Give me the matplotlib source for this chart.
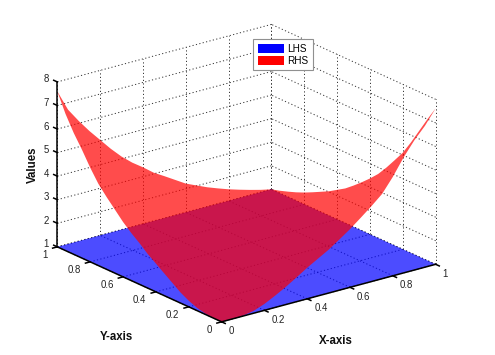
# plot.py
# LHS / RHS surfaces over the unit square, 3D view in the old MATLAB look

import matplotlib
matplotlib.use('Agg')
import matplotlib.pyplot as plt
from matplotlib.patches import Patch
from mpl_toolkits.mplot3d import proj3d
from mpl_toolkits.mplot3d.art3d import Poly3DCollection

plt.rcParams['font.family'] = ['Liberation Sans', 'DejaVu Sans']

# RHS along its four edges, indexed by distance from the x=y diagonal
edge_pos = [0, 0.05, 0.1, 0.15, 0.2, 0.25, 0.3, 0.35, 0.4, 0.45, 0.5,
            0.55, 0.6, 0.65, 0.7, 0.75, 0.8, 0.85, 0.9, 0.95, 1]
rhs_x0 = [1.00, 1.00, 1.04, 1.12, 1.26, 1.45, 1.70, 1.95, 2.20, 2.45, 2.75,
          3.02, 3.33, 3.70, 4.07, 4.47, 5.00, 5.60, 6.15, 6.80, 7.60]
rhs_y1 = [1.00, 1.10, 1.22, 1.35, 1.49, 1.65, 1.82, 2.02, 2.22, 2.50, 2.78,
          3.05, 3.40, 3.72, 4.10, 4.55, 5.05, 5.55, 6.10, 6.70, 7.60]
rhs_x1 = [1.00, 1.10, 1.22, 1.35, 1.50, 1.67, 1.85, 2.03, 2.25, 2.47, 2.75,
          3.05, 3.37, 3.72, 4.15, 4.62, 5.10, 5.70, 6.35, 7.00, 7.62]
rhs_y0 = [1.00, 1.00, 1.02, 1.10, 1.27, 1.50, 1.75, 2.03, 2.32, 2.58, 2.84,
          3.15, 3.47, 3.83, 4.20, 4.60, 5.20, 5.90, 6.50, 7.00, 7.62]
lhs_value = 1

x_ticks = [0, 0.2, 0.4, 0.6, 0.8, 1]
y_ticks = [0, 0.2, 0.4, 0.6, 0.8, 1]
z_ticks = [1, 2, 3, 4, 5, 6, 7, 8]
x_tick_labels = ['0', '0.2', '0.4', '0.6', '0.8', '1']
y_tick_labels = ['0', '0.2', '0.4', '0.6', '0.8', '1']
z_tick_labels = ['1', '2', '3', '4', '5', '6', '7', '8']

W, H = 495, 355
fig = plt.figure(figsize=(W / 100, H / 100), dpi=100)
ax = fig.add_axes([-15.4 / W, -80 / H, 510 / W, 510 / H], projection='3d',
                  proj_type='ortho', computed_zorder=False)
ax.set_box_aspect((270, 270, 176.2), zoom=0.8)
ax.view_init(elev=20.5, azim=-127.5)
ax.set_xlim(0, 1, view_margin=0)
ax.set_ylim(0, 1, view_margin=0)
ax.set_zlim(1, 8, view_margin=0)
ax.set_axis_off()

x0, x1 = x_ticks[0], x_ticks[-1]
y0, y1 = y_ticks[0], y_ticks[-1]
z0, z1 = z_ticks[0], z_ticks[-1]

grid = dict(color='#333333', lw=0.7, ls=(0, (1.2, 2.4)), zorder=1)
axis_line = dict(color='black', lw=1.1, zorder=4)
tick_len = 0.022
M = ax.get_proj()


def label3d(x, y, z, s, **kw):
    # plain 2D text placed at the projected point
    px, py, _ = proj3d.proj_transform(x, y, z, M)
    ax.text2D(px, py, s, transform=ax.transData, **kw)


# floor and the two back walls
for t in x_ticks:
    ax.plot([t, t], [y0, y1], [z0, z0], **grid)
    ax.plot([t, t], [y1, y1], [z0, z1], **grid)
for t in y_ticks:
    ax.plot([x0, x1], [t, t], [z0, z0], **grid)
    ax.plot([x1, x1], [t, t], [z0, z1], **grid)
for t in z_ticks:
    ax.plot([x0, x1], [y1, y1], [t, t], **grid)
    ax.plot([x1, x1], [y0, y1], [t, t], **grid)

# surfaces, one outline each so no seams show through the alpha
lhs_verts = [(x0, y0, lhs_value), (x1, y0, lhs_value), (x1, y1, lhs_value), (x0, y1, lhs_value)]
rhs_verts = []
for p, z in zip(edge_pos, rhs_x0):
    rhs_verts.append((x0, p, z))
for p, z in zip(edge_pos[::-1], rhs_y1[::-1]):
    rhs_verts.append((1 - p, y1, z))
for p, z in zip(edge_pos, rhs_x1):
    rhs_verts.append((x1, 1 - p, z))
for p, z in zip(edge_pos[::-1], rhs_y0[::-1]):
    rhs_verts.append((p, y0, z))

ax.add_collection3d(Poly3DCollection([lhs_verts], facecolors=[(0, 0, 1, 0.7)],
                                     edgecolors='none', linewidths=0, zorder=2))
ax.add_collection3d(Poly3DCollection([rhs_verts], facecolors=[(1, 0, 0, 0.7)],
                                     edgecolors='none', linewidths=0, zorder=3))

# solid axes, ticks and labels
ax.plot([x0, x1], [y0, y0], [z0, z0], **axis_line)
ax.plot([x0, x0], [y0, y1], [z0, z0], **axis_line)
ax.plot([x0, x0], [y1, y1], [z0, z1], **axis_line)

tick_style = dict(fontsize=6.9, color='#222222', zorder=5)
for t, s in zip(x_ticks, x_tick_labels):
    ax.plot([t, t], [y0, y0 - tick_len], [z0, z0], **axis_line)
    label3d(t, y0 - 0.043, z0 - 0.27, s, ha='left', va='center', **tick_style)
for t, s in zip(y_ticks, y_tick_labels):
    ax.plot([x0, x0 - tick_len], [t, t], [z0, z0], **axis_line)
    label3d(x0 - 0.044, t, z0 - 0.246, s, ha='right', va='center', **tick_style)
for t, s in zip(z_ticks, z_tick_labels):
    ax.plot([x0, x0], [y1, y1 + tick_len], [t, t], **axis_line)
    label3d(x0, y1 + 0.067, t - 0.11, s, ha='center', va='center', **tick_style)

label_style = dict(fontsize=8.3, fontweight='bold', color='#111111')
fig.text(336 / W, 1 - 340.7 / H, 'X-axis', ha='center', va='center', **label_style)
fig.text(116.3 / W, 1 - 336.7 / H, 'Y-axis', ha='center', va='center', **label_style)
fig.text(33 / W, 1 - 165 / H, 'Values', rotation=90, ha='center', va='center', **label_style)

handles = [Patch(facecolor='#0000ff', edgecolor='none', label='LHS'),
           Patch(facecolor='#ff0000', edgecolor='none', label='RHS')]
legend = fig.legend(handles=handles, loc='upper left', bbox_to_anchor=(253.3 / W, 1 - 39.3 / H),
                    borderaxespad=0, fontsize=7.2, fancybox=False, framealpha=1,
                    edgecolor='#909090', handlelength=2.6, handleheight=1.0,
                    handletextpad=0.35, borderpad=0.45, labelspacing=0.2)
legend.get_frame().set_linewidth(0.8)

fig.savefig('out.png', dpi=100)
